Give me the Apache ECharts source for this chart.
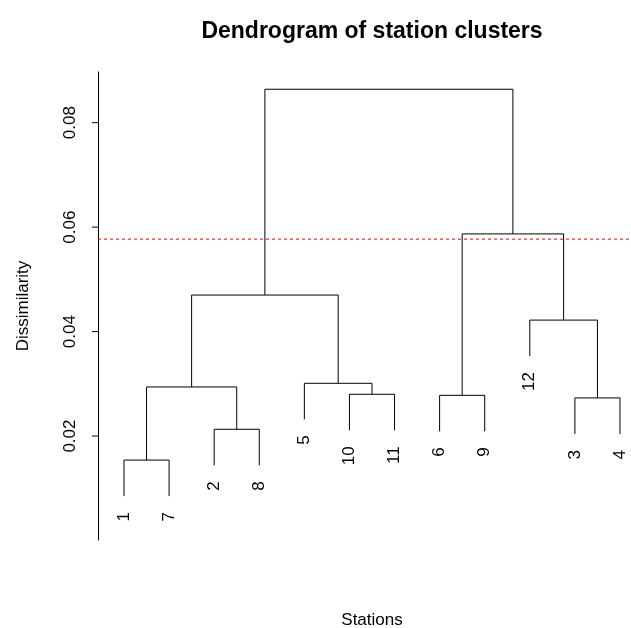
<!doctype html>
<html>
<head>
<meta charset="UTF-8">
<title>Dendrogram</title>
<script src="https://cdn.jsdelivr.net/npm/echarts@6/dist/echarts.min.js"></script>
<style>
html,body{margin:0;padding:0;background:#fff;}
#main{width:631px;height:628px;}
</style>
</head>
<body>
<div id="main"></div>
<script>
// leaves in plotting order
var leafLabels = ['1', '7', '2', '8', '5', '10', '11', '6', '9', '12', '3', '4'];
// merges: children are 'L<i>' (leaf position) or 'M<j>' (earlier merge)
var mergeLeft = ['L0', 'L2', 'L5', 'L10', 'L7', 'M0', 'L4', 'L9', 'M5', 'M4', 'M8'];
var mergeRight = ['L1', 'L3', 'L6', 'L11', 'L8', 'M1', 'M2', 'M3', 'M6', 'M7', 'M9'];
var mergeHeight = [0.0154, 0.0213, 0.0280, 0.0273, 0.0278, 0.0294, 0.0301, 0.0422, 0.0470, 0.0587, 0.0864];
var cutHeight = 0.0577;
var hang = 0.0069;
var yTicks = [0.02, 0.04, 0.06, 0.08];

// x/y of every node
var nodeX = {}, nodeY = {};
for (var i = 0; i < mergeLeft.length; i++) {
  ['L', 'R'].forEach(function (s) {
    var c = s == 'L' ? mergeLeft[i] : mergeRight[i];
    if (c[0] == 'L') {
      nodeX[c] = +c.slice(1) + 1;
      nodeY[c] = mergeHeight[i] - hang;
    }
  });
  nodeX['M' + i] = (nodeX[mergeLeft[i]] + nodeX[mergeRight[i]]) / 2;
  nodeY['M' + i] = mergeHeight[i];
}

var segs = [];
for (var i = 0; i < mergeLeft.length; i++) {
  var a = mergeLeft[i], b = mergeRight[i], h = mergeHeight[i];
  segs.push([nodeX[a], nodeY[a], nodeX[a], h]);
  segs.push([nodeX[a], h, nodeX[b], h]);
  segs.push([nodeX[b], h, nodeX[b], nodeY[b]]);
}
var leaves = leafLabels.map(function (l, k) {
  return [k + 1, nodeY['L' + k], l];
});

var myChart = echarts.init(document.getElementById('main'));
var option = {
  animation: false,
  grid: {left: 98, right: 2, top: 72, bottom: 88},
  xAxis: {type: 'value', min: 0.4234, max: 12.2, show: false},
  yAxis: {
    type: 'value', min: 0.0001, max: 0.0897,
    name: 'Dissimilarity', nameLocation: 'middle', nameGap: 66,
    nameTextStyle: {fontFamily: 'Liberation Sans', fontSize: 17, color: '#000'},
    axisLine: {show: true, lineStyle: {color: '#000'}},
    axisTick: {show: false},
    splitLine: {show: false},
    axisLabel: {show: false}
  },
  graphic: [{
    type: 'text', x: 372, y: 32,
    style: {text: 'Dendrogram of station clusters', font: 'bold 23px Liberation Sans', fill: '#000',
      align: 'center', verticalAlign: 'middle'}
  }, {
    type: 'text', x: 372, y: 620,
    style: {text: 'Stations', font: '17px Liberation Sans', fill: '#000', align: 'center', verticalAlign: 'middle'}
  }],
  series: [{
    type: 'custom',
    data: segs,
    renderItem: function (params, api) {
      var p1 = api.coord([api.value(0), api.value(1)]);
      var p2 = api.coord([api.value(2), api.value(3)]);
      return {type: 'line', shape: {x1: p1[0], y1: p1[1], x2: p2[0], y2: p2[1]},
        style: {stroke: '#000', lineWidth: 1}};
    }
  }, {
    type: 'custom',
    data: leaves,
    renderItem: function (params, api) {
      var p = api.coord([api.value(0), api.value(1)]);
      return {type: 'text', x: p[0], y: p[1] + 16, rotation: Math.PI / 2,
        style: {text: leafLabels[params.dataIndex], font: '17px Liberation Sans', fill: '#000',
          align: 'right', verticalAlign: 'middle'}};
    }
  }, {
    type: 'custom',
    data: yTicks,
    renderItem: function (params, api) {
      var p = api.coord([0.4234, api.value(0)]);
      return {type: 'group', children: [
        {type: 'line', shape: {x1: p[0], y1: p[1], x2: p[0] - 6, y2: p[1]}, style: {stroke: '#000'}},
        {type: 'text', x: p[0] - 28, y: p[1], rotation: Math.PI / 2,
          style: {text: String(api.value(0)), font: '17px Liberation Sans', fill: '#000',
            align: 'center', verticalAlign: 'middle'}}
      ]};
    }
  }, {
    type: 'custom',
    data: [cutHeight],
    renderItem: function (params, api) {
      var p1 = api.coord([0.4234, api.value(0)]);
      var p2 = api.coord([12.2, api.value(0)]);
      return {type: 'line', shape: {x1: p1[0], y1: p1[1], x2: p2[0], y2: p2[1]},
        style: {stroke: '#ff0000', lineWidth: 1, lineDash: [3, 3]}};
    }
  }]
};
myChart.setOption(option);
</script>
</body>
</html>
